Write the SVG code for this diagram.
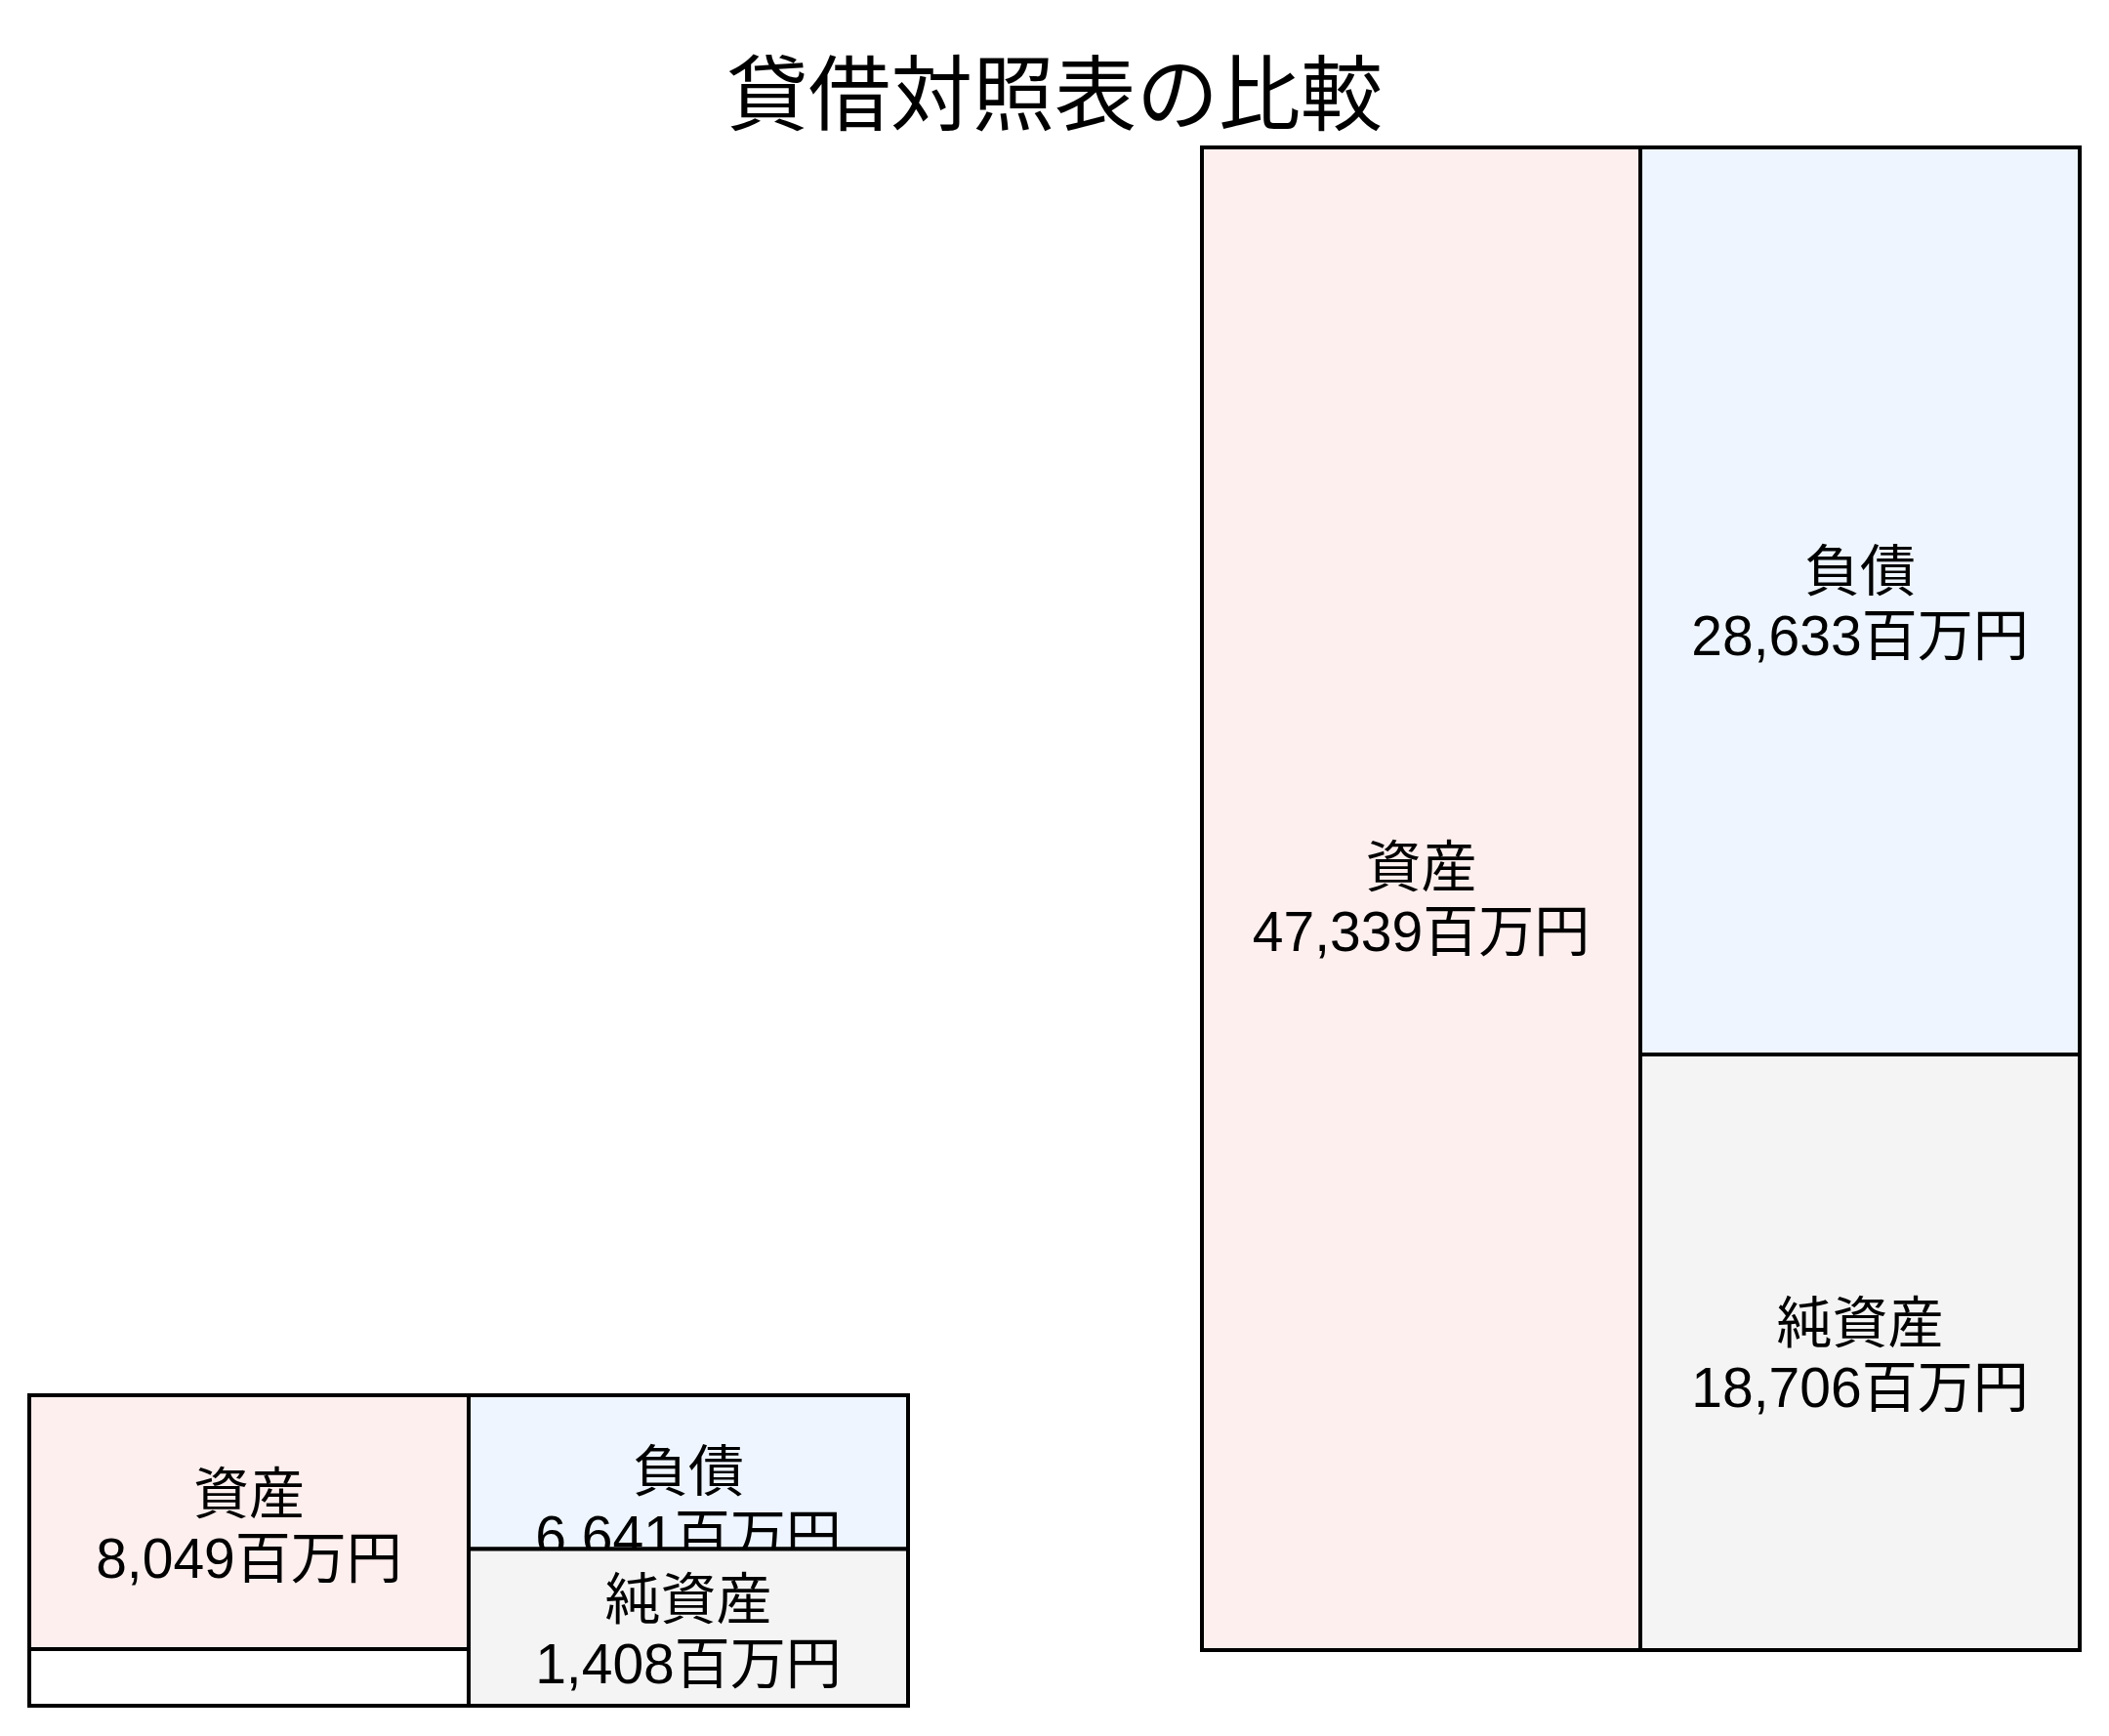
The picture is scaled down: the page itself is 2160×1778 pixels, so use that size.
<svg xmlns="http://www.w3.org/2000/svg" width="2160" height="1778" viewBox="0 0 2160 1778">
<style>
.box{stroke:#000;stroke-width:4}
.asset{fill:#fdefee}
.liab{fill:#eef5fe}
.eq{fill:#f4f4f4}
.frame{fill:#fff}
text{font-family:"Liberation Sans","Noto Sans CJK JP",sans-serif;fill:#000;text-anchor:middle}
.lbl{font-size:57px}
.title{font-size:84px}
</style>
<rect width="2160" height="1778" fill="#fff"/>
<g id="title"><text class="title" x="1080" y="127">貸借対照表の比較</text></g>
<g id="small-frame"><rect class="box frame" x="30" y="1429" width="900" height="318"/></g>
<g id="small-asset">
<rect class="box asset" x="30" y="1429" width="450" height="260"/>
<text class="lbl" x="255" y="1550">資産</text>
<text class="lbl" x="255" y="1616">8,049百万円</text>
</g>
<g id="small-liab">
<rect class="box liab" x="480" y="1429" width="450" height="157.5"/>
<text class="lbl" x="705" y="1527">負債</text>
<text class="lbl" x="705" y="1593">6,641百万円</text>
</g>
<g id="small-equity">
<rect class="box eq" x="480" y="1586.5" width="450" height="160.5"/>
<text class="lbl" x="705" y="1658">純資産</text>
<text class="lbl" x="705" y="1724">1,408百万円</text>
</g>
<g id="big-asset">
<rect class="box asset" x="1231" y="151" width="449" height="1539"/>
<text class="lbl" x="1455.5" y="908">資産</text>
<text class="lbl" x="1455.5" y="974">47,339百万円</text>
</g>
<g id="big-liab">
<rect class="box liab" x="1680" y="151" width="450" height="929"/>
<text class="lbl" x="1905" y="605">負債</text>
<text class="lbl" x="1905" y="671">28,633百万円</text>
</g>
<g id="big-equity">
<rect class="box eq" x="1680" y="1080" width="450" height="610"/>
<text class="lbl" x="1905" y="1375">純資産</text>
<text class="lbl" x="1905" y="1441">18,706百万円</text>
</g>
<g id="connectors"></g>
</svg>
